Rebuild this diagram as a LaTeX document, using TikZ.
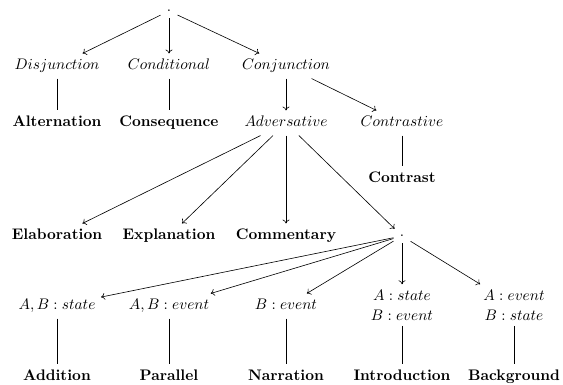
\documentclass[tikz,border=0pt]{standalone}
\usetikzlibrary{arrows.meta}
\begin{document}
\begin{tikzpicture}[x=0.6536pt,y=-0.6536pt,
  lbl/.style={inner sep=3.5pt,text height=7pt,text depth=2pt},
  two/.style={inner sep=3.5pt,align=center},
  pt/.style={inner sep=4pt},
  arr/.style={line width=0.4pt,-{To[length=2.5pt,width=4.5pt]}},
  ln/.style={line width=0.4pt}]
\useasboundingbox (0,0) rectangle (563,385);
% nodes
\node[pt] (root) at (169,11) {.};
\node[lbl] (disj) at (57,66) {$Disjunction$};
\node[lbl] (cond) at (169,66) {$Conditional$};
\node[lbl] (conj) at (286,66) {$Conjunction$};
\node[lbl] (alt) at (57,123) {\textbf{Alternation}};
\node[lbl] (cons) at (169,123) {\textbf{Consequence}};
\node[lbl] (adv) at (286,123) {$Adversative$};
\node[lbl] (ctrv) at (402,123) {$Contrastive$};
\node[lbl] (ctr) at (402,179) {\textbf{Contrast}};
\node[lbl] (elab) at (57,236) {\textbf{Elaboration}};
\node[lbl] (expl) at (169,236) {\textbf{Explanation}};
\node[lbl] (comm) at (286,236) {\textbf{Commentary}};
\node[pt] (dot) at (402,236) {.};
\node[lbl] (abs) at (57,306) {$A, B : state$};
\node[lbl] (abe) at (169,306) {$A, B : event$};
\node[lbl] (be) at (286,306) {$B : event$};
\node[two] (asbe) at (402,305) {$A : state$\\[1pt]$B : event$};
\node[two] (aebs) at (514,305) {$A : event$\\[1pt]$B : state$};
\node[lbl] (add) at (57,377) {\textbf{Addition}};
\node[lbl] (par) at (169,377) {\textbf{Parallel}};
\node[lbl] (nar) at (286,377) {\textbf{Narration}};
\node[lbl] (intr) at (402,377) {\textbf{Introduction}};
\node[lbl] (bg) at (514,377) {\textbf{Background}};
% connectors
\draw[arr] (root) -- (disj);
\draw[arr] (root) -- (cond);
\draw[arr] (root) -- (conj);
\draw[ln] (disj) -- (alt);
\draw[ln] (cond) -- (cons);
\draw[arr] (conj) -- (adv);
\draw[arr] (conj) -- (ctrv);
\draw[ln] (ctrv) -- (ctr);
\draw[arr] (adv) -- (elab);
\draw[arr] (adv) -- (expl);
\draw[arr] (adv) -- (comm);
\draw[arr] (adv) -- (dot);
\draw[arr] (dot) -- (abs);
\draw[arr] (dot) -- (abe);
\draw[arr] (dot) -- (be);
\draw[arr] (dot) -- (asbe);
\draw[arr] (dot) -- (aebs);
\draw[ln] (abs) -- (add);
\draw[ln] (abe) -- (par);
\draw[ln] (be) -- (nar);
\draw[ln] (asbe) -- (intr);
\draw[ln] (aebs) -- (bg);
\end{tikzpicture}
\end{document}
